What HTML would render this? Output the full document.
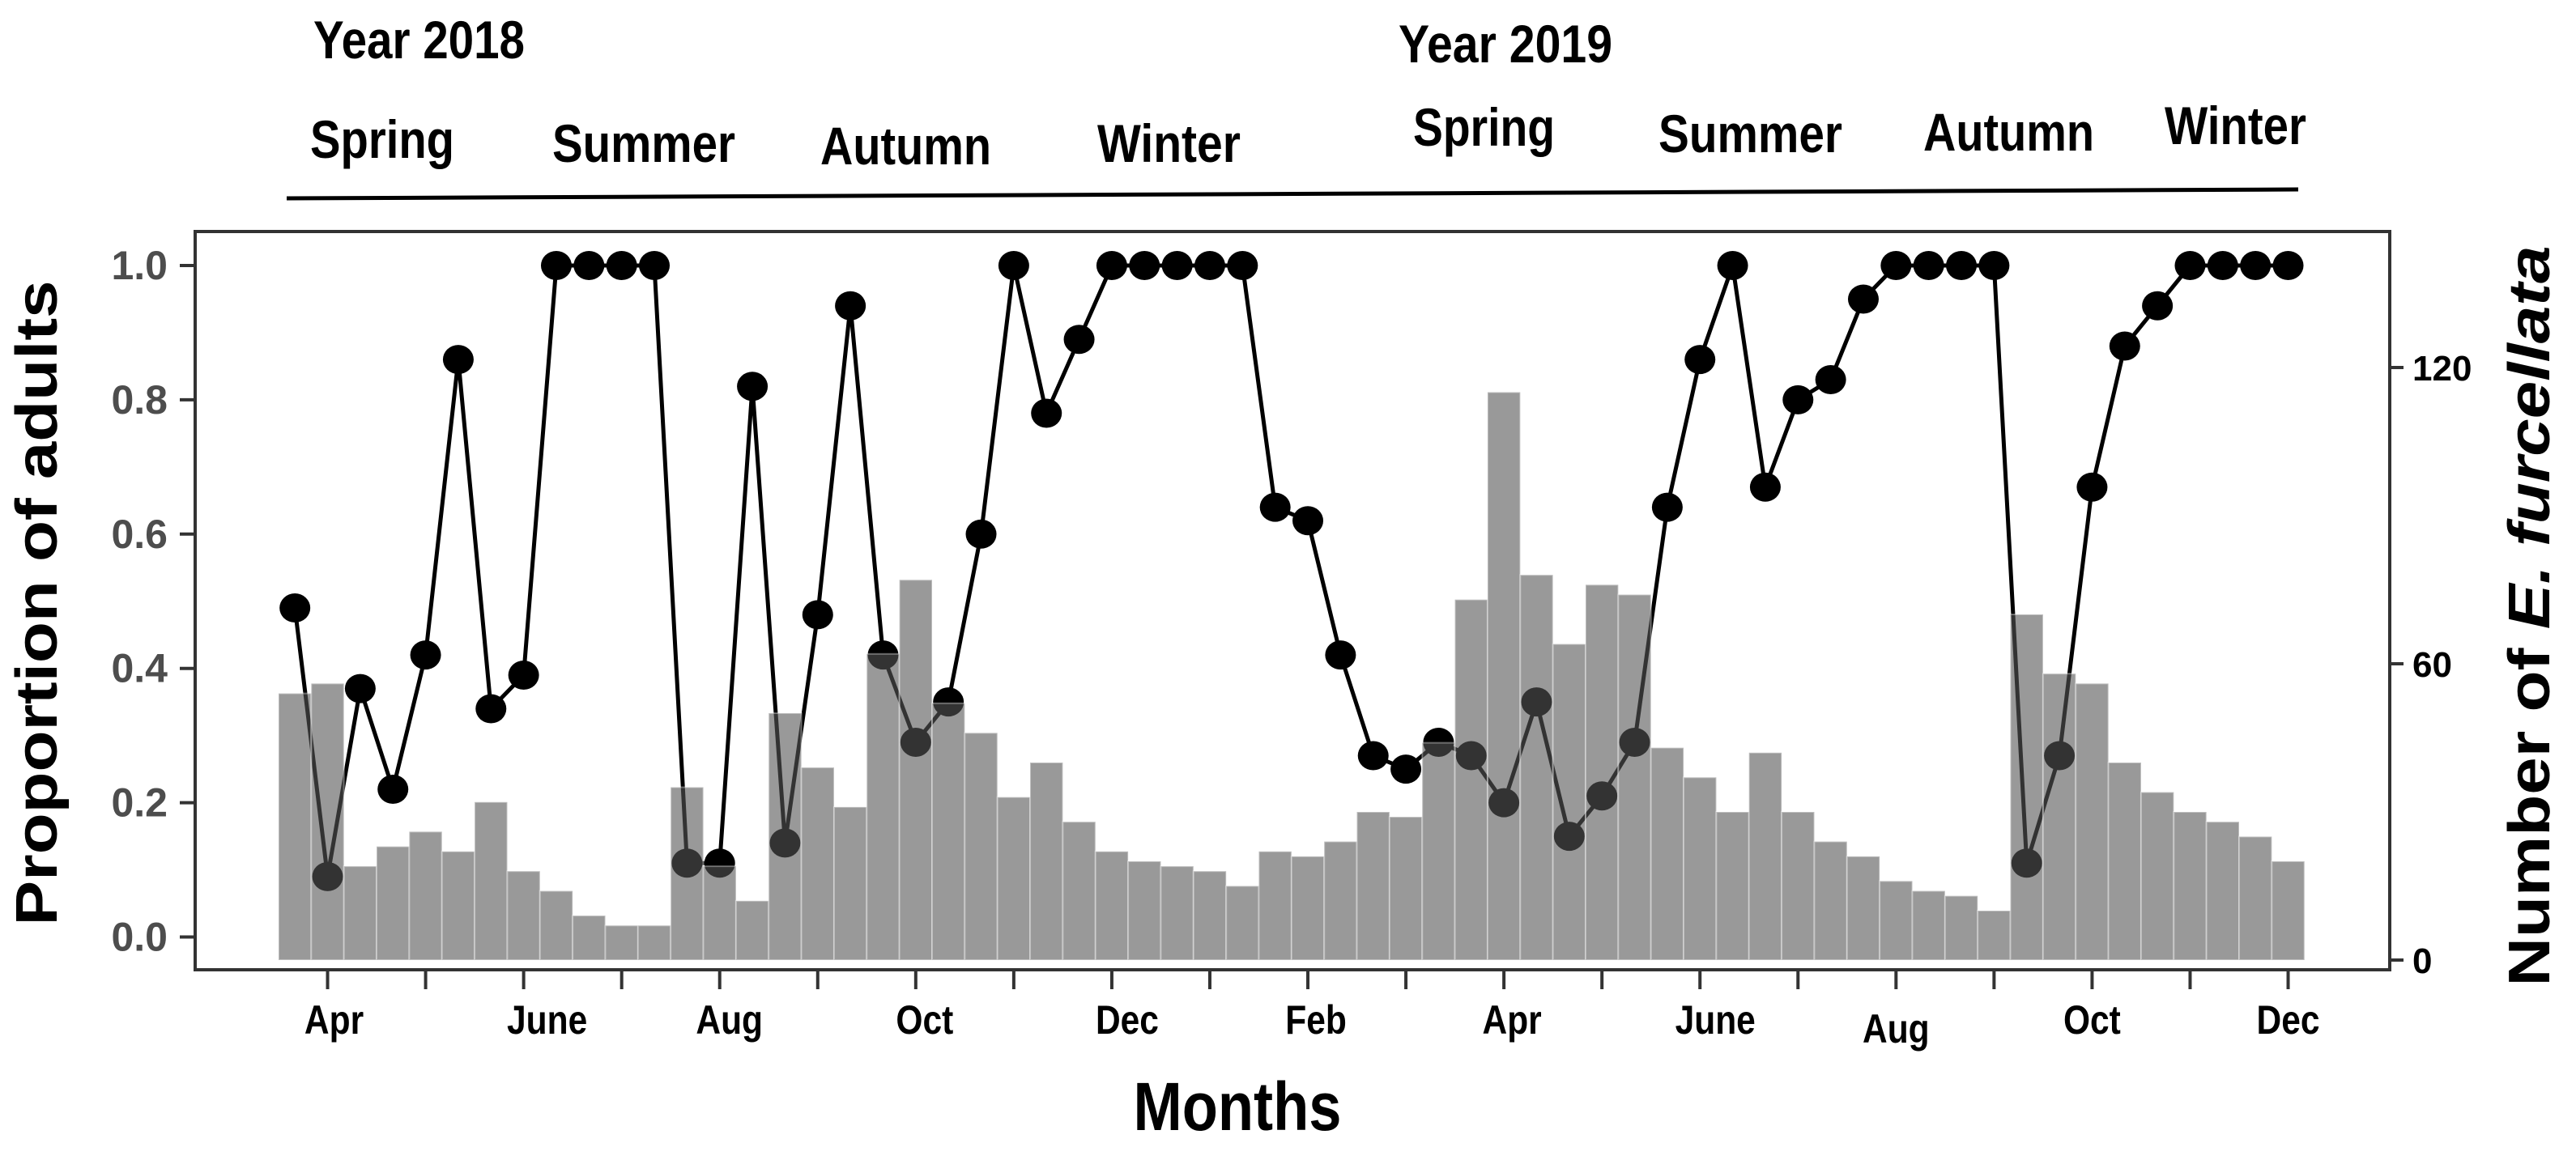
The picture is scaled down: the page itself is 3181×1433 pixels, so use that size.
<!DOCTYPE html>
<html><head><meta charset="utf-8"><style>
html,body{margin:0;padding:0;background:#fff;}
svg{display:block;font-family:"Liberation Sans",Arial,sans-serif;font-weight:bold;}
</style></head><body>
<svg id="chart" width="3181" height="1433" viewBox="0 0 3181 1433" xmlns="http://www.w3.org/2000/svg">
<g id="header">
<text x="387" y="72" font-size="66" textLength="261" lengthAdjust="spacingAndGlyphs">Year 2018</text>
<text x="1727" y="77" font-size="66" textLength="264" lengthAdjust="spacingAndGlyphs">Year 2019</text>
<text x="383" y="195" font-size="66" textLength="178" lengthAdjust="spacingAndGlyphs">Spring</text>
<text x="682" y="200" font-size="66" textLength="226" lengthAdjust="spacingAndGlyphs">Summer</text>
<text x="1013" y="203" font-size="66" textLength="211" lengthAdjust="spacingAndGlyphs">Autumn</text>
<text x="1355" y="200" font-size="66" textLength="177" lengthAdjust="spacingAndGlyphs">Winter</text>
<text x="1745" y="180" font-size="66" textLength="175" lengthAdjust="spacingAndGlyphs">Spring</text>
<text x="2048" y="188" font-size="66" textLength="227" lengthAdjust="spacingAndGlyphs">Summer</text>
<text x="2375" y="186" font-size="66" textLength="211" lengthAdjust="spacingAndGlyphs">Autumn</text>
<text x="2673" y="178" font-size="66" textLength="175" lengthAdjust="spacingAndGlyphs">Winter</text>
<line x1="354" y1="245" x2="2838" y2="234" stroke="#000" stroke-width="5"/>
</g>
<g id="plot"></g>
<text transform="translate(70,745) rotate(-90)" text-anchor="middle" font-size="72" textLength="797" lengthAdjust="spacingAndGlyphs">Proportion of adults</text>
<text transform="translate(3148,761) rotate(-90)" text-anchor="middle" font-size="72" textLength="915" lengthAdjust="spacingAndGlyphs">Number of <tspan font-style="italic">E. furcellata</tspan></text>
<text x="1528" y="1396" text-anchor="middle" font-size="84" textLength="257" lengthAdjust="spacingAndGlyphs">Months</text>
</svg>
<script>
const proportions = [0.49,0.09,0.37,0.22,0.42,0.86,0.34,0.39,1,1,1,1,0.11,0.11,0.82,0.14,0.48,0.94,0.42,0.29,0.35,0.60,1,0.78,0.89,1,1,1,1,1,0.64,0.62,0.42,0.27,0.25,0.29,0.27,0.20,0.35,0.15,0.21,0.29,0.64,0.86,1,0.67,0.80,0.83,0.95,1,1,1,1,0.11,0.27,0.67,0.88,0.94,1,1,1,1];
const counts = [54,56,19,23,26,22,32,18,14,9,7,7,35,19,12,50,39,31,62,77,52,46,33,40,28,22,20,19,18,15,22,21,24,30,29,44,73,115,78,64,76,74,43,37,30,42,30,24,21,16,14,13,10,70,58,56,40,34,30,28,25,20];
const monthLabels = ["Apr","June","Aug","Oct","Dec","Feb","Apr","June","Aug","Oct","Dec"];
const leftTicks = [0,0.2,0.4,0.6,0.8,1.0];
const rightTicks = [0,60,120];

const NS="http://www.w3.org/2000/svg";
const plot=document.getElementById('plot');
const X0=344, BW=40.35;
const labelShift=[8,29,12,11,19,10,10,19,0,0,0];
function xc(i){return X0+BW*(i+0.5);}
function yP(v){return 1157.5-v*829.5;}
function yC(c){return 1186-c*6.1;}
function mk(tag,attrs){const e=document.createElementNS(NS,tag);for(const k in attrs)e.setAttribute(k,attrs[k]);plot.appendChild(e);return e;}

const fr=mk('rect',{x:241,y:286,width:2710,height:912,fill:'none',stroke:'#333','stroke-width':4});



let d='';proportions.forEach((v,i)=>{d+=(i?'L':'M')+xc(i)+' '+yP(v);});
const ln=mk('path',{d:d,fill:'none',stroke:'#000','stroke-width':5});


proportions.forEach((v,i)=>{
  const c=mk('ellipse',{cx:xc(i),cy:yP(v),rx:19,ry:18,fill:'#000'});
  
  
});
counts.forEach((c,i)=>{
  const y=yC(c);
  const b=mk('rect',{x:X0+BW*i,y:y,width:BW,height:yC(0)-y,fill:'rgb(85,85,85)','fill-opacity':0.6,stroke:'rgba(255,255,255,0.35)','stroke-width':2});
  
  
});
leftTicks.forEach(t=>{
  const y=yP(t);
  const tk=mk('line',{x1:222,x2:241,y1:y,y2:y,stroke:'#333','stroke-width':4});
  
  
  const tx=mk('text',{x:207,y:y+17,'text-anchor':'end','font-size':50,fill:'#4d4d4d'});
  tx.textContent=t.toFixed(1);
  
  
});
rightTicks.forEach(t=>{
  const y=yC(t);
  const tk=mk('line',{x1:2951,x2:2968,y1:y,y2:y,stroke:'#333','stroke-width':4});
  
  
  const tx=mk('text',{x:2979,y:y+16,'font-size':44,fill:'#000'});
  tx.textContent=t;
  
  
});
for(let i=1;i<counts.length;i+=3){
  const x=xc(i);
  const tk=mk('line',{x1:x,x2:x,y1:1198,y2:1222,stroke:'#333','stroke-width':4});
  
  
}
monthLabels.forEach((m,k)=>{
  const i=1+6*k;
  const tx=mk('text',{x:xc(i)+labelShift[k],y:(m==='Aug'&&k>4)?1288:1277,'text-anchor':'middle','font-size':50,fill:'#000'});
  tx.textContent=m;
  
  
  const w=tx.getComputedTextLength();
  if(w>0){tx.setAttribute('textLength',w*0.85);tx.setAttribute('lengthAdjust','spacingAndGlyphs');}
});
</script>
</body></html>
